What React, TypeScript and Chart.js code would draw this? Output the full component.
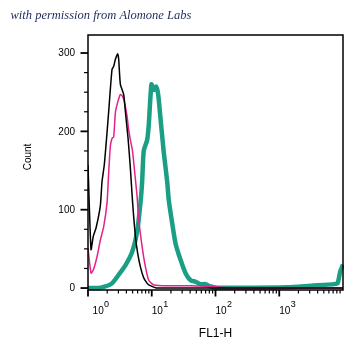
import { useEffect, useRef } from 'react';
import { Chart, registerables } from 'chart.js';

Chart.register(...registerables);

// Isotype / control (black)
const blackFL1 = [1.0, 1.115, 1.21, 1.34, 1.56, 1.66, 1.8, 1.95, 2.11, 2.38, 2.53, 2.69, 2.92, 3.03, 3.22, 3.63, 3.86, 4.25, 4.62, 5.0, 5.54, 6.0, 6.64, 7.48, 8.47, 8.97, 11.4, 15, 10000];
const blackCount = [157, 49, 66, 77, 105, 136, 157, 190, 225, 279, 283, 292, 299, 292, 260, 247, 225, 191, 153, 110, 66, 45, 27, 13, 6, 4, 0.5, 0, 0];

// Magenta series
const magentaFL1 = [1.0, 1.115, 1.21, 1.385, 1.56, 1.76, 1.99, 2.11, 2.24, 2.38, 2.53, 2.69, 2.92, 3.22, 3.46, 3.72, 4.1, 4.35, 4.62, 4.97, 5.35, 5.89, 6.25, 7.06, 7.96, 8.97, 10.75, 19.7, 40.6, 58.3, 100, 248, 10000];
const magentaCount = [51, 19, 23, 40, 61, 78, 109, 147, 181, 191, 193, 224, 237, 247, 245, 238, 219, 202, 189, 176, 151, 117, 87, 53, 27, 10, 4, 3, 3, 2.5, 1.5, 0, 0];

// Teal series (thick)
const tealFL1 = [1.0, 1.47, 1.87, 2.38, 3.03, 3.86, 4.92, 5.89, 6.64, 7.06, 7.48, 8.47, 8.97, 9.89, 10.75, 11.73, 12.61, 13.7, 15.4, 17.5, 18.5, 20.9, 23.6, 28.3, 33.9, 40.6, 48.6, 58.3, 69.9, 83.8, 107, 356, 1346, 3126, 5012, 7194, 8226, 9036, 10000];
const tealCount = [0, 0, 2, 6, 17, 29, 46, 72, 108, 135, 175, 189, 208, 260, 253, 257, 247, 217, 174, 135, 112, 83, 57, 36, 19, 10, 8, 5, 5, 2, 0.5, 0.5, 1, 3, 4, 5, 6, 21, 30];

const yMajorTicks = [0, 100, 200, 300];
const yMinorTicks = [25, 50, 75, 125, 150, 175, 225, 250, 275];
const xDecadeExponents = [0, 1, 2, 3];
const xMinorMultipliers = [2, 3, 4, 5, 6, 7, 8, 9];

const topNote = 'with permission from Alomone Labs';
const xTitle = 'FL1-H';
const yTitle = 'Count';

const toPoints = (xs: number[], ys: number[]) => xs.map((x, i) => ({ x, y: ys[i] }));

const decorPlugin = {
  id: 'decor',
  afterDraw(chart: any) {
    const { ctx, chartArea: a, scales } = chart;
    const xs = scales.x;
    const ys = scales.y;
    ctx.save();
    ctx.strokeStyle = '#000';
    ctx.fillStyle = '#000';

    // frame
    ctx.lineWidth = 1.5;
    ctx.strokeRect(a.left, a.top, a.right - a.left, a.bottom - a.top);

    // y ticks
    ctx.lineWidth = 1.8;
    for (const v of yMajorTicks) {
      const py = ys.getPixelForValue(v);
      ctx.beginPath();
      ctx.moveTo(a.left - 7.5, py);
      ctx.lineTo(a.left, py);
      ctx.stroke();
    }
    ctx.lineWidth = 1.2;
    for (const v of yMinorTicks) {
      const py = ys.getPixelForValue(v);
      ctx.beginPath();
      ctx.moveTo(a.left - 4, py);
      ctx.lineTo(a.left, py);
      ctx.stroke();
    }
    ctx.font = "10px 'Liberation Sans', Arial, sans-serif";
    ctx.textAlign = 'right';
    ctx.textBaseline = 'middle';
    for (const v of yMajorTicks) {
      ctx.fillText(String(v), 75, ys.getPixelForValue(v) + 0.5);
    }

    // x ticks
    ctx.lineWidth = 1.8;
    for (const e of xDecadeExponents) {
      const px = xs.getPixelForValue(Math.pow(10, e));
      ctx.beginPath();
      ctx.moveTo(px, a.bottom);
      ctx.lineTo(px, a.bottom + 6.5);
      ctx.stroke();
    }
    ctx.lineWidth = 1.2;
    for (const e of xDecadeExponents) {
      for (const m of xMinorMultipliers) {
        const px = xs.getPixelForValue(m * Math.pow(10, e));
        ctx.beginPath();
        ctx.moveTo(px, a.bottom);
        ctx.lineTo(px, a.bottom + 3.5);
        ctx.stroke();
      }
    }
    ctx.textAlign = 'left';
    ctx.textBaseline = 'alphabetic';
    for (const e of xDecadeExponents) {
      let px = xs.getPixelForValue(Math.pow(10, e));
      if (e === 0) px += 4.6;
      ctx.font = "10px 'Liberation Sans', Arial, sans-serif";
      ctx.fillText('10', px, 313.5);
      const w = ctx.measureText('10').width;
      ctx.font = "9px 'Liberation Sans', Arial, sans-serif";
      ctx.fillText(String(e), px + w + 0.3, 306.5);
    }

    // axis titles
    ctx.font = "12px 'Liberation Sans', Arial, sans-serif";
    ctx.textAlign = 'center';
    ctx.fillText(xTitle, (a.left + a.right) / 2, 337);
    ctx.save();
    ctx.translate(28.5, 157);
    ctx.rotate(-Math.PI / 2);
    ctx.font = "10px 'Liberation Sans', Arial, sans-serif";
    ctx.textBaseline = 'middle';
    ctx.fillText(yTitle, 0, 0);
    ctx.restore();

    // top note
    ctx.font = "italic 12.5px 'Liberation Serif', serif";
    ctx.fillStyle = '#1f2a5c';
    ctx.textAlign = 'left';
    ctx.textBaseline = 'alphabetic';
    ctx.fillText(topNote, 10.5, 19.3);

    ctx.restore();
  },
};

export default function App() {
  const ref = useRef<HTMLCanvasElement | null>(null);

  useEffect(() => {
    if (!ref.current) return;
    const chart = new Chart(ref.current, {
      type: 'line',
      data: {
        datasets: [
          {
            label: 'black',
            data: toPoints(blackFL1, blackCount),
            borderColor: '#000000',
            borderWidth: 1.5,
            pointRadius: 0,
            tension: 0.2,
            order: 1,
          },
          {
            label: 'magenta',
            data: toPoints(magentaFL1, magentaCount),
            borderColor: '#e2238c',
            borderWidth: 1.5,
            pointRadius: 0,
            tension: 0.2,
            order: 2,
          },
          {
            label: 'teal',
            data: toPoints(tealFL1, tealCount),
            borderColor: '#1a9f85',
            borderWidth: 4.5,
            pointRadius: 0,
            tension: 0.2,
            borderJoinStyle: 'round',
            order: 3,
            clip: 1,
          },
        ],
      },
      options: {
        responsive: false,
        animation: false,
        parsing: true,
        layout: { padding: { top: 35, right: 21, left: 0, bottom: 0 } },
        plugins: {
          legend: { display: false },
          tooltip: { enabled: false },
          title: { display: false },
        },
        scales: {
          x: {
            type: 'logarithmic',
            min: 1,
            max: 10000,
            grid: { display: false },
            border: { display: false },
            ticks: { display: false },
            afterFit: (s: any) => {
              s.height = 67;
            },
          },
          y: {
            type: 'linear',
            min: -2.5,
            max: 323,
            grid: { display: false },
            border: { display: false },
            ticks: { display: false },
            afterFit: (s: any) => {
              s.width = 88;
            },
          },
        },
      } as any,
      plugins: [decorPlugin],
    });
    return () => chart.destroy();
  }, []);

  return (
    <div style={{ position: 'absolute', left: 0, top: 0, width: 364, height: 357, background: '#fff' }}>
      <canvas ref={ref} width={364} height={357} style={{ display: 'block', width: 364, height: 357 }} />
    </div>
  );
}
